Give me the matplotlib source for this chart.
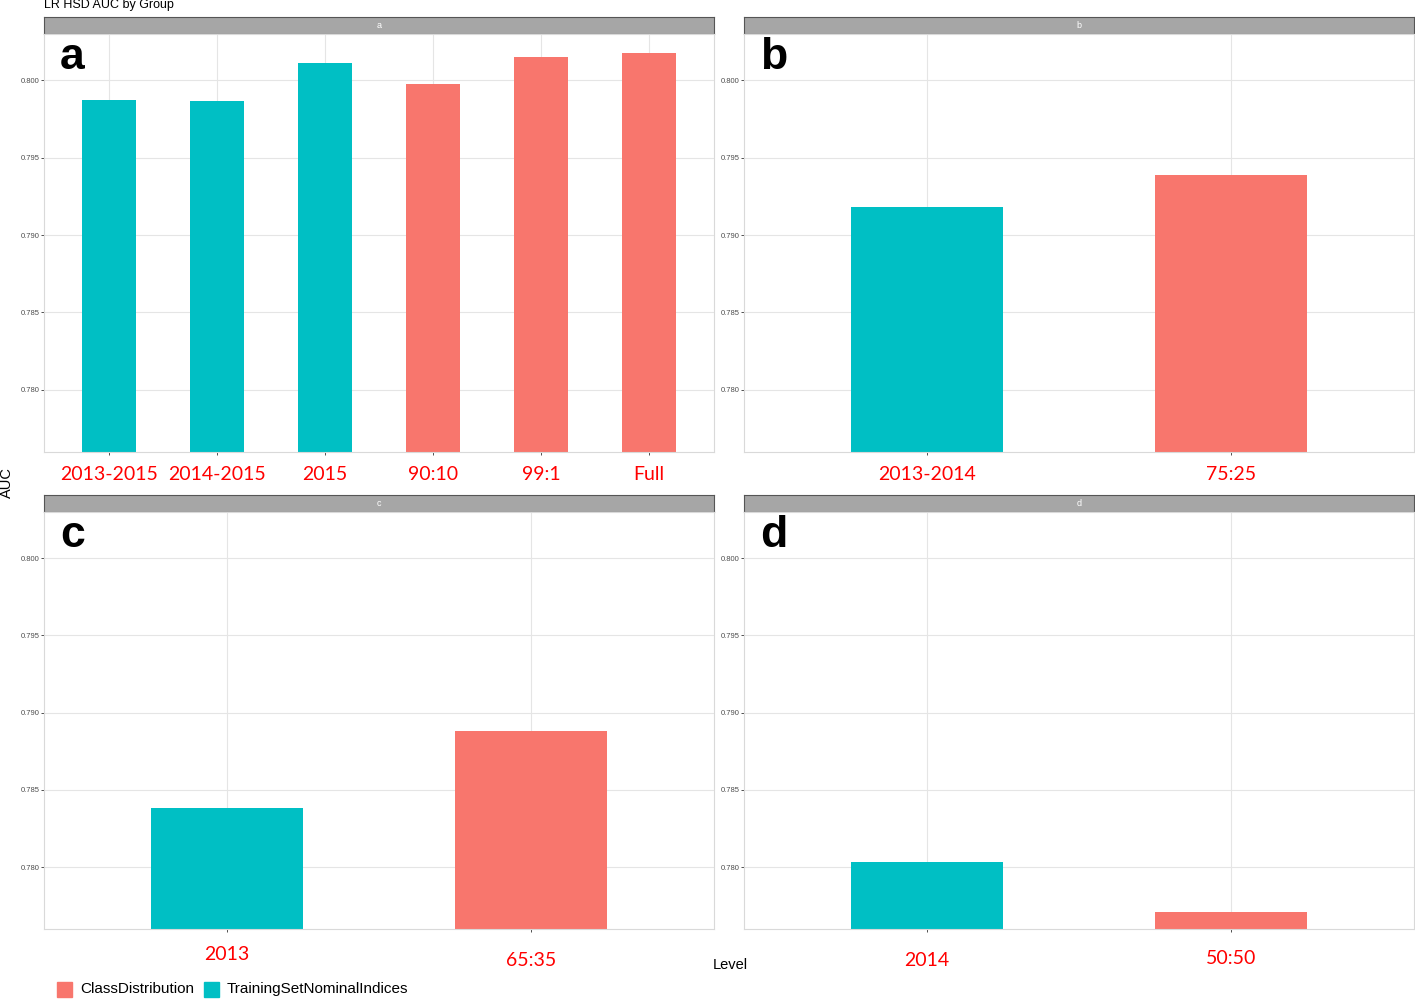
import matplotlib.pyplot as plt
import numpy as np

# data
panels = ['a', 'b', 'c', 'd']
levels = {
    'a': ['2013-2015', '2014-2015', '2015', '90:10', '99:1', 'Full'],
    'b': ['2013-2014', '75:25'],
    'c': ['2013', '65:35'],
    'd': ['2014', '50:50'],
}
auc = {
    'a': [0.79871, 0.79864, 0.80110, 0.79974, 0.80149, 0.80175],
    'b': [0.79178, 0.79385],
    'c': [0.78382, 0.78880],
    'd': [0.78032, 0.77709],
}
groups = {
    'a': ['T', 'T', 'T', 'C', 'C', 'C'],
    'b': ['T', 'C'],
    'c': ['T', 'C'],
    'd': ['T', 'C'],
}
yticks = [0.780, 0.785, 0.790, 0.795, 0.800]
legend_names = ['ClassDistribution', 'TrainingSetNominalIndices']

colors = {'C': '#F8766D', 'T': '#00BFC4'}

W, H = 1415, 999
fig = plt.figure(figsize=(W / 100, H / 100), dpi=100)
plt.rcParams['font.family'] = ['Liberation Sans', 'DejaVu Sans']

def px(x0, y0, x1, y1):
    # pixel box (top-left origin) -> figure fraction
    return [x0 / W, 1 - y1 / H, (x1 - x0) / W, (y1 - y0) / H]

# (left, strip top, right, axes bottom)
boxes = {
    'a': (44, 17, 714, 452),
    'b': (744, 17, 1414, 452),
    'c': (44, 495, 714, 929),
    'd': (744, 495, 1414, 929),
}
label_y = {
    'a': [475] * 6,
    'b': [475, 475],
    'c': [955, 960],
    'd': [960, 959],
}

for p in panels:
    x0, s0, x1, y1 = boxes[p]
    strip_h = 17
    # strip
    sax = fig.add_axes(px(x0, s0, x1, s0 + strip_h))
    sax.set_facecolor('#A6A6A6')
    sax.set_xticks([]); sax.set_yticks([])
    for sp in sax.spines.values():
        sp.set_color('#555555')
        sp.set_linewidth(0.8)
    sax.text(0.5, 0.5, p, color='white', fontsize=6.5, ha='center', va='center',
             transform=sax.transAxes)

    ax = fig.add_axes(px(x0, s0 + strip_h, x1, y1))
    n = len(levels[p])
    xs = np.arange(n)
    ax.bar(xs, np.array(auc[p]), width=0.5,
           color=[colors[g] for g in groups[p]], zorder=2)
    ax.set_xlim(-0.6, n - 1 + 0.6)
    ax.set_ylim(0.77599, 0.80298)
    ax.set_yticks(yticks)
    ax.set_yticklabels(['%.3f' % v for v in yticks], fontsize=5.5, color='#4D4D4D')
    ax.set_xticks(xs)
    ax.set_xticklabels([])
    ax.tick_params(axis='both', length=2, width=0.6, color='#333333', pad=1)
    ax.grid(True, color='#E5E5E5', linewidth=0.8, zorder=0)
    ax.set_axisbelow(True)
    for sp in ax.spines.values():
        sp.set_color('#D9D9D9')
        sp.set_linewidth(0.8)
    ah = y1 - (s0 + strip_h)
    ax.text(16 / (x1 - x0), 1 - 35 / ah, p, transform=ax.transAxes, fontsize=32,
            fontweight='bold', ha='left', va='baseline', color='black')

    # red tick labels placed in pixel rows
    for i, lab in enumerate(levels[p]):
        xd = ax.transData.transform((xs[i], 0))[0]
        fig.text(xd / W, 1 - label_y[p][i] / H, lab, color='#FF0000',
                 fontsize=14, family=['Lato', 'DejaVu Sans'],
                 ha='center', va='center')

fig.text(44 / W, 1 - 5 / H, 'LR HSD AUC by Group', fontsize=9,
         ha='left', va='center')
fig.text(7 / W, 1 - 483 / H, 'AUC', fontsize=10.5, rotation=90,
         ha='center', va='center')
fig.text(730 / W, 1 - 965 / H, 'Level', fontsize=10.5, ha='center', va='center')

# legend
leg_x = [57, 204]
for i, name in enumerate(legend_names):
    c = colors['C'] if i == 0 else colors['T']
    fig.patches.append(plt.Rectangle((leg_x[i] / W, 1 - 997 / H), 15 / W, 15 / H,
                                     transform=fig.transFigure, color=c))
    fig.text((leg_x[i] + 23) / W, 1 - 989 / H, name, fontsize=11,
             ha='left', va='center')

fig.savefig('out.png', dpi=100)
